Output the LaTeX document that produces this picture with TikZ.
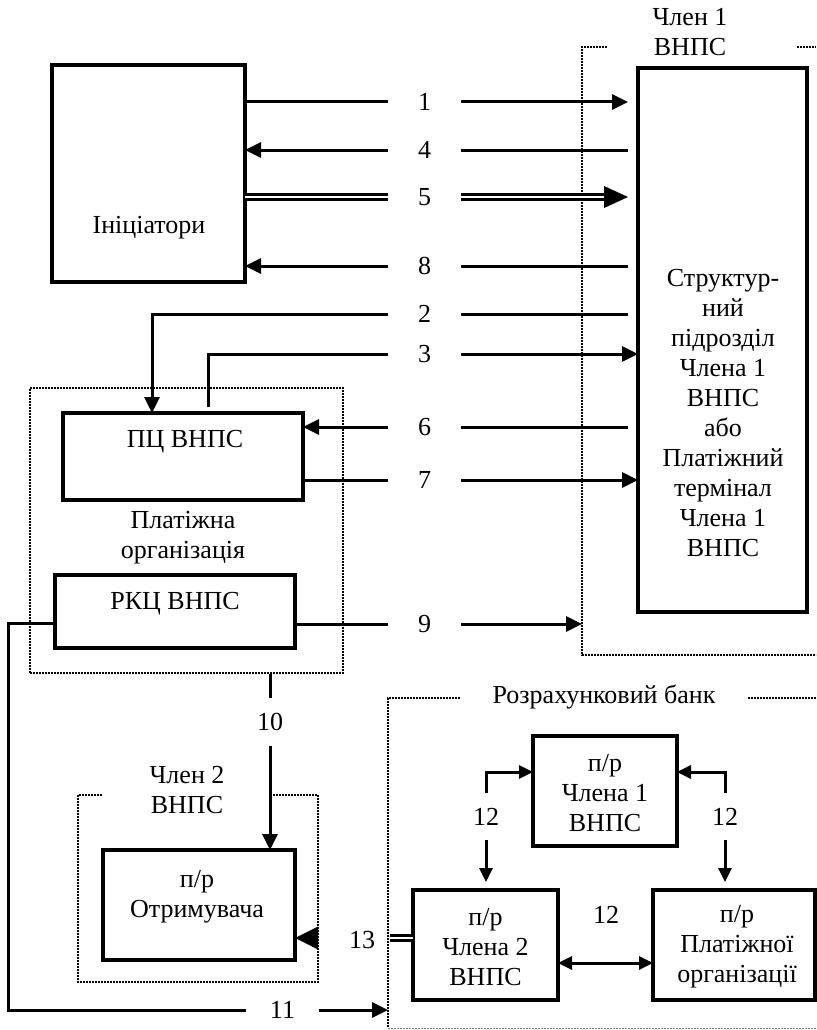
\documentclass[tikz,border=0pt]{standalone}
\usepackage{fontspec}
\setmainfont{Liberation Serif}
\usetikzlibrary{arrows.meta,calc}
\begin{document}
\begin{tikzpicture}[x=1pt,y=-1pt,
 font=\fontsize{26}{30}\selectfont,
 box/.style={draw,line width=3.5pt,inner sep=0,outer sep=0},
 frame/.style={line width=2.5pt,dash pattern=on 2pt off 1pt},
 con/.style={line width=3pt},
 arr/.style={con,-{Triangle[length=16pt,width=15pt]}},
 sarr/.style={con,-{Triangle[length=14pt,width=13pt]}},
 dbl/.style={double,double distance=2pt,line width=3pt},
 lbl/.style={inner sep=0,minimum width=73pt},
 vlbl/.style={inner sep=0,minimum height=47pt},
 txt/.style={align=center,inner sep=0}]
\useasboundingbox (0,0) rectangle (816,1030);

% boxes
\node[box,minimum width=193pt,minimum height=217pt] (init) at (148.5,173.5) {};
\node[txt] (tinit) at (149,228) {Ініціатори};
\node[box,minimum width=169pt,minimum height=544pt] (rbox) at (722.5,340) {};
\node[txt] (trbox) at (723,413) {Структур-\\ний\\підрозділ\\Члена 1\\ВНПС\\або\\Платіжний\\термінал\\Члена 1\\ВНПС};
\coordinate (rx) at ($(rbox.west)+(-10,0)$);

% frame Член 1
\node[txt] (tm1) at (690,32) {Член 1\\ВНПС};
\draw[frame] (607,47) -- (582,47) -- (582,655) -- (816,655);
\draw[frame] (797,47) -- (816,47);
\coordinate (f1) at (582,655);

% Платіжна організація
\node[draw,frame,inner sep=0,minimum width=313pt,minimum height=285pt] (porg) at (186.5,530.5) {};
\node[box,minimum width=240pt,minimum height=87pt] (pc) at (183,456.5) {};
\node[txt] (tpc) at (185,442) {ПЦ ВНПС};
\node[txt] (tporg) at (183,538) {Платіжна\\організація};
\node[box,minimum width=240pt,minimum height=73pt] (rkc) at (175,611.5) {};
\node[txt] (trkc) at (175,604) {РКЦ ВНПС};

% labels
\node[lbl] (l1) at (424.5,102) {1};
\node[lbl] (l4) at (424.5,150) {4};
\node[lbl] (l5) at (424.5,197) {5};
\node[lbl] (l8) at (424.5,266) {8};
\node[lbl] (l2) at (424.5,314) {2};
\node[lbl] (l3) at (424.5,354) {3};
\node[lbl] (l6) at (424.5,427) {6};
\node[lbl] (l7) at (424.5,480) {7};
\node[lbl] (l9) at (424.5,624) {9};

% arrows 1-9
\draw[con] (l1.west -| init.east) -- (l1.west);
\draw[arr] (l1.east) -- (l1.east -| rx);
\draw[arr] (l4.west) -- (l4.west -| init.east);
\draw[con] (l4.east) -- (l4.east -| rx);
\draw[dbl] (l5.west -| init.east) -- (l5.west);
\draw[dbl] (l5.east) -- ($(l5.east -| rx)+(-22,0)$);
\fill (l5.east -| rx) -- ++(-24,-11) -- ++(0,22) -- cycle;
\draw[arr] (l8.west) -- (l8.west -| init.east);
\draw[con] (l8.east) -- (l8.east -| rx);
\draw[con] (l2.east -| rx) -- (l2.east);
\draw[arr] (l2.west) -| ($(pc.north)+(-31,0)$);
\draw[con] ($(pc.north)+(25,-6)$) |- (l3.west);
\draw[arr] (l3.east) -- (l3.east -| rbox.west);
\draw[con] (l6.east -| rx) -- (l6.east);
\draw[arr] (l6.west) -- (l6.west -| pc.east);
\draw[con] (l7.west -| pc.east) -- (l7.west);
\draw[arr] (l7.east) -- (l7.east -| rbox.west);
\draw[con] (l9.west -| rkc.east) -- (l9.west);
\draw[arr] (l9.east) -- (l9.east -| f1);

% Розрахунковий банк frame
\draw[frame] (460,698) -- (388,698) -- (388,1028);
\draw[line width=1pt,gray,dash pattern=on 2pt off 1pt] (388,1028) -- (816,1028);
\draw[frame] (748,698) -- (816,698);
\coordinate (f2) at (388,698);
\node[txt] (tbank) at (604,697) {Розрахунковий банк};

% 11
\node[lbl] (l11) at (282.5,1010) {11};
\draw[con] ($(rkc.west)+(0,12)$) -- ++(-47,0) |- (l11.west);
\draw[arr] (l11.east) -- (l11.east -| f2);

% Член 2 frame and receiver
\draw[frame] (102,795) -- (78,795) -- (78,982) -- (318,982) -- (318,795) -- (270,795);
\node[txt] (tm2) at (187,790) {Член 2\\ВНПС};
\node[box,minimum width=192pt,minimum height=110pt] (recv) at (199,905) {};
\node[txt] (trecv) at (197,897) {п/р\\Отримувача};

% 10
\node[vlbl] (l10) at (270,722) {10};
\draw[con] (porg.south -| l10.north) -- (l10.north);
\draw[arr] (l10.south) -- (l10.south |- recv.north);

% bank accounts
\node[box,minimum width=144pt,minimum height=110pt] (m1) at (605,791) {};
\node[txt] (tm1b) at (605,793) {п/р\\Члена 1\\ВНПС};
\node[box,minimum width=145pt,minimum height=110pt] (m2) at (485.5,945) {};
\node[txt] (tm2b) at (485.5,947) {п/р\\Члена 2\\ВНПС};
\node[box,minimum width=162pt,minimum height=110pt] (mp) at (734,945) {};
\node[txt] (tmp) at (737,947) {п/р\\Платіжної\\організації};

% 13
\coordinate (c13a) at (390,938);
\coordinate (c13b) at (318,938);
\node[txt] (l13) at (362,940) {13};
\draw[dbl] ($(m2.west)+(0,-7)$) -- (c13a);
\draw[con,-{Triangle[length=23pt,width=22pt]}] (c13b) -- (c13b -| recv.east);

% 12
\node[vlbl] (l12a) at (486,816.5) {12};
\draw[sarr] (l12a.north) |- ($(m1.west)+(0,-19)$);
\draw[sarr] (l12a.south) -- ($(l12a.south |- m2.north)+(0,-8)$);
\node[vlbl] (l12b) at (725,816.5) {12};
\draw[sarr] (l12b.north) |- ($(m1.east)+(0,-19)$);
\draw[sarr] (l12b.south) -- ($(l12b.south |- mp.north)+(0,-8)$);
\node[txt] (l12c) at (606,915) {12};
\draw[con,{Triangle[length=14pt,width=13pt]}-{Triangle[length=14pt,width=13pt]}] ($(m2.east)+(0,18)$) -- ($(mp.west)+(0,18)$);
\end{tikzpicture}
\end{document}
